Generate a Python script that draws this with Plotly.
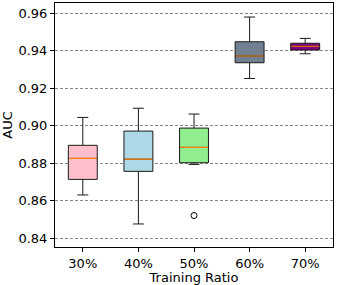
import plotly.graph_objects as go

categories = ["30%", "40%", "50%", "60%", "70%"]
lower_whisker = [0.863, 0.8475, 0.8793, 0.9252, 0.9384]
q1 = [0.8713, 0.8756, 0.8802, 0.9336, 0.9404]
median = [0.8825, 0.8821, 0.8884, 0.9372, 0.9424]
q3 = [0.8895, 0.8971, 0.8987, 0.9448, 0.9440]
upper_whisker = [0.9044, 0.9093, 0.9062, 0.9580, 0.9466]
fill_colors = ["#FFC0CB", "#ADD8E6", "#90EE90", "#708090", "#800080"]
outlier_cat = ["50%"]
outlier_val = [0.852]

fig = go.Figure()
for i, c in enumerate(categories):
    fig.add_trace(go.Box(
        x=[c], q1=[q1[i]], median=[median[i]], q3=[q3[i]],
        lowerfence=[lower_whisker[i]], upperfence=[upper_whisker[i]],
        fillcolor=fill_colors[i], line=dict(color="#1a1a1a", width=1),
        width=0.52, whiskerwidth=0.38, showlegend=False, hoverinfo="skip",
    ))
    # median line (orange), as a collapsed box
    fig.add_trace(go.Box(
        x=[c], q1=[median[i]], median=[median[i]], q3=[median[i]],
        lowerfence=[median[i]], upperfence=[median[i]],
        fillcolor="rgba(0,0,0,0)", line=dict(color="#ff7f0e", width=1.2),
        width=0.5, whiskerwidth=0, showlegend=False, hoverinfo="skip",
    ))

fig.add_trace(go.Scatter(
    x=outlier_cat, y=outlier_val, mode="markers",
    marker=dict(symbol="circle-open", size=6, color="black", line=dict(width=1)),
    showlegend=False, hoverinfo="skip",
))

font = dict(family="DejaVu Sans", size=13, color="black")
fig.update_layout(
    width=337, height=285,
    margin=dict(l=55, r=4, t=3, b=38, autoexpand=False),
    paper_bgcolor="white", plot_bgcolor="white",
    font=font, boxmode="overlay", showlegend=False,
)
fig.update_xaxes(
    type="category", categoryorder="array", categoryarray=categories,
    range=[-0.5, 4.5], showgrid=False, zeroline=False, automargin=False,
    showline=True, linecolor="black", linewidth=1, mirror=True,
    ticks="outside", ticklen=4, tickcolor="black",
    title=dict(text="Training Ratio", font=font, standoff=2),
    tickfont=font,
)
fig.update_yaxes(
    range=[0.8352, 0.9655], dtick=0.02, tick0=0.84, tickformat=".2f",
    showgrid=True, gridcolor="#888888", griddash="3px,2px", gridwidth=1,
    zeroline=False, showline=True, linecolor="black", linewidth=1, mirror=True,
    ticks="outside", ticklen=4, tickcolor="black", automargin=False,
    title=dict(text="AUC", font=font, standoff=4),
    tickfont=font,
)

fig.write_html("out.html", config={"displayModeBar": False},
               post_script="document.body.style.margin='0';")
